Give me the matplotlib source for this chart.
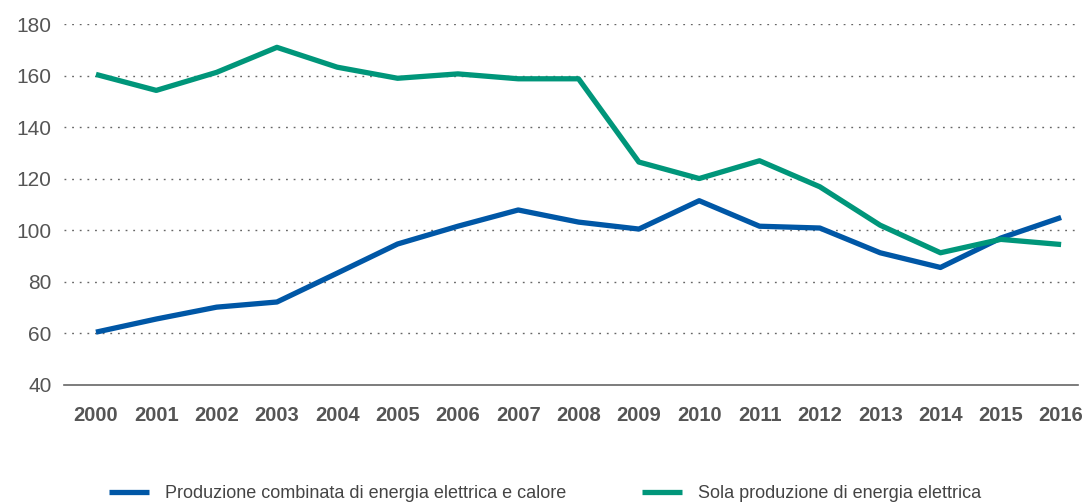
import matplotlib
matplotlib.use('Agg')
import matplotlib.pyplot as plt

years = list(range(2000, 2017))
combinata = [60.5, 65.6, 70.2, 72.2, 83.4, 94.7, 101.6, 107.9, 103.2, 100.5,
             111.5, 101.6, 100.9, 91.3, 85.6, 97.0, 105.0]
sola = [160.5, 154.3, 161.3, 171.0, 163.3, 159.0, 160.7, 158.8, 158.8, 126.5,
        120.1, 127.0, 116.9, 102.0, 91.3, 96.5, 94.5]
labels = ['Produzione combinata di energia elettrica e calore',
          'Sola produzione di energia elettrica']
colors = ['#0057a6', '#00967a']

plt.rcParams['font.family'] = ['Liberation Sans', 'DejaVu Sans']

fig = plt.figure(figsize=(10.9, 5.03), dpi=100)
ax = fig.add_axes([0.0587, 0.2346, 0.9303, 0.7174])

ax.plot(years, combinata, color=colors[0], lw=3.8, label=labels[0], solid_capstyle='butt')
ax.plot(years, sola, color=colors[1], lw=3.8, label=labels[1], solid_capstyle='butt')

ax.set_ylim(40, 180)
ax.set_xlim(1999.47, 2016.28)
ax.set_yticks(range(40, 181, 20))
ax.set_xticks(years)
ax.set_xticklabels([str(y) for y in years], fontweight='bold', fontsize=14.5)

for y in range(60, 181, 20):
    ax.axhline(y, color='#666666', lw=1.0, ls=(0, (1.3, 4.2)), zorder=0)

for s in ['top', 'right', 'left']:
    ax.spines[s].set_visible(False)
ax.spines['bottom'].set_color('#666666')
ax.spines['bottom'].set_linewidth(1.2)

ax.tick_params(axis='both', length=0, colors='#555555')
ax.tick_params(axis='y', labelsize=15, pad=9)
ax.tick_params(axis='x', pad=15)

fig.legend(loc='lower center', bbox_to_anchor=(0.5, -0.03), ncol=2, frameon=False,
           fontsize=13, handlelength=2.2, handletextpad=0.9, columnspacing=4.2,
           labelcolor='#444444')

fig.savefig('out.png', dpi=100)
